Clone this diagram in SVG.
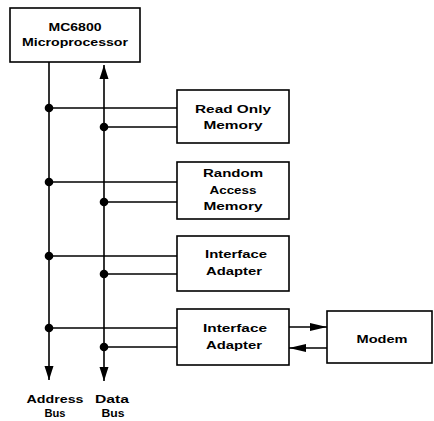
<svg xmlns="http://www.w3.org/2000/svg" width="434" height="421" viewBox="0 0 434 421">
<defs>
<style>
.box{fill:#fff;stroke:#000;stroke-width:1.6}
.ln{fill:none;stroke:#000;stroke-width:1.6}
.dot{fill:#000}
text{font-family:"Liberation Sans",Arial,sans-serif;font-weight:bold;font-size:10.5px;fill:#000;text-anchor:middle}
</style>
<marker id="ah" markerUnits="userSpaceOnUse" markerWidth="15" markerHeight="10" refX="14" refY="5" orient="auto-start-reverse" viewBox="0 0 15 10">
<path d="M0,0.5 L14,5 L0,9.5 z" fill="#000"/>
</marker>
<marker id="ahs" markerUnits="userSpaceOnUse" markerWidth="18" markerHeight="10" refX="17" refY="5" orient="auto" viewBox="0 0 18 10">
<path d="M0,1 L17,5 L0,9 z" fill="#000"/>
</marker>
</defs>
<g id="connectors">
<line class="ln" x1="49" y1="62" x2="49" y2="380" marker-end="url(#ah)"/>
<line class="ln" x1="104" y1="65" x2="104" y2="381" marker-start="url(#ah)" marker-end="url(#ah)"/>
<line class="ln" x1="49" y1="108" x2="177" y2="108"/>
<line class="ln" x1="104" y1="127" x2="177" y2="127"/>
<line class="ln" x1="49" y1="182" x2="177" y2="182"/>
<line class="ln" x1="104" y1="202" x2="177" y2="202"/>
<line class="ln" x1="49" y1="256" x2="177" y2="256"/>
<line class="ln" x1="104" y1="274" x2="177" y2="274"/>
<line class="ln" x1="49" y1="328" x2="177" y2="328"/>
<line class="ln" x1="104" y1="347" x2="177" y2="347"/>
<line class="ln" x1="289" y1="327" x2="327" y2="327" marker-end="url(#ahs)"/>
<line class="ln" x1="327" y1="348" x2="289" y2="348" marker-end="url(#ahs)"/>
<circle class="dot" cx="49" cy="108" r="4.3"/>
<circle class="dot" cx="104" cy="127" r="4.3"/>
<circle class="dot" cx="49" cy="182" r="4.3"/>
<circle class="dot" cx="104" cy="202" r="4.3"/>
<circle class="dot" cx="49" cy="256" r="4.3"/>
<circle class="dot" cx="104" cy="274" r="4.3"/>
<circle class="dot" cx="49" cy="328" r="4.3"/>
<circle class="dot" cx="104" cy="347" r="4.3"/>
</g>
<g id="cpu">
<rect class="box" x="10" y="8" width="130" height="54"/>
<text x="75" y="31" font-size="11.5" textLength="53" lengthAdjust="spacingAndGlyphs">MC6800</text>
<text x="75" y="46" textLength="106" lengthAdjust="spacingAndGlyphs">Microprocessor</text>
</g>
<g id="rom">
<rect class="box" x="177" y="90" width="112" height="53"/>
<text x="233" y="113" textLength="76" lengthAdjust="spacingAndGlyphs">Read Only</text>
<text x="233" y="129" textLength="59" lengthAdjust="spacingAndGlyphs">Memory</text>
</g>
<g id="ram">
<rect class="box" x="177" y="162" width="112" height="57"/>
<text x="233" y="177" textLength="60" lengthAdjust="spacingAndGlyphs">Random</text>
<text x="233" y="194" textLength="47" lengthAdjust="spacingAndGlyphs">Access</text>
<text x="233" y="210" textLength="59" lengthAdjust="spacingAndGlyphs">Memory</text>
</g>
<g id="ia1">
<rect class="box" x="177" y="236" width="112" height="55"/>
<text x="236" y="258" textLength="62" lengthAdjust="spacingAndGlyphs">Interface</text>
<text x="234" y="275" textLength="56" lengthAdjust="spacingAndGlyphs">Adapter</text>
</g>
<g id="ia2">
<rect class="box" x="177" y="309" width="112" height="56"/>
<text x="235" y="332" textLength="64" lengthAdjust="spacingAndGlyphs">Interface</text>
<text x="234" y="349" textLength="56" lengthAdjust="spacingAndGlyphs">Adapter</text>
</g>
<g id="modem">
<rect class="box" x="327" y="311" width="105" height="52"/>
<text x="382" y="343" textLength="51" lengthAdjust="spacingAndGlyphs">Modem</text>
</g>
<g id="labels">
<text x="55" y="403" textLength="57" lengthAdjust="spacingAndGlyphs">Address</text>
<text x="55" y="417" textLength="21" lengthAdjust="spacingAndGlyphs">Bus</text>
<text x="112" y="403" textLength="34" lengthAdjust="spacingAndGlyphs">Data</text>
<text x="113" y="417" textLength="23" lengthAdjust="spacingAndGlyphs">Bus</text>
</g>
</svg>
